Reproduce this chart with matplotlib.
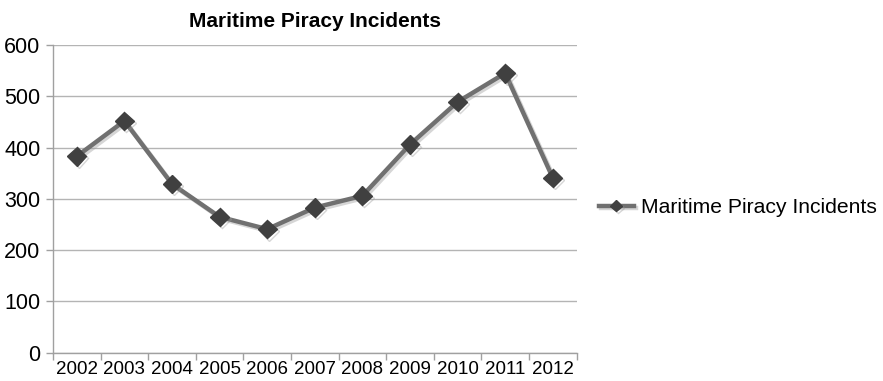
import matplotlib
matplotlib.use("Agg")
import matplotlib.pyplot as plt
import matplotlib.patheffects as pe
import numpy as np

plt.rcParams['font.family'] = ['Liberation Sans', 'DejaVu Sans']

years = ["2002", "2003", "2004", "2005", "2006", "2007", "2008", "2009", "2010", "2011", "2012"]
incidents = [383, 452, 329, 265, 241, 283, 306, 406, 489, 545, 341]
yticks = [0, 100, 200, 300, 400, 500, 600]
series_name = "Maritime Piracy Incidents"

fig = plt.figure(figsize=(8.83, 3.81), dpi=100)
ax = fig.add_axes([0.060, 0.074, 0.593, 0.808])

x = np.arange(len(years))
shadow = [pe.SimpleLineShadow(offset=(1.5, -1.5), shadow_color='#999999', alpha=0.4), pe.Normal()]
line, = ax.plot(x, incidents, color='#707070', lw=3.2, marker='D', markersize=9.5,
                markerfacecolor='#404040', markeredgecolor='#404040', label=series_name,
                path_effects=shadow, zorder=3)

ax.set_xlim(-0.5, len(years) - 0.5)
ax.set_ylim(0, 600)
ax.set_yticks(yticks)
ax.set_yticklabels([str(v) for v in yticks], fontsize=15.5)
ax.set_xticks(x)
ax.set_xticklabels(years, fontsize=13.5)
ax.set_xticks(np.arange(-0.5, len(years), 1.0), minor=True)
ax.tick_params(axis='x', which='major', length=0, pad=6)
ax.tick_params(axis='x', which='minor', length=5, color='#a0a0a0', width=1)
ax.tick_params(axis='y', length=5, color='#a0a0a0', width=1, pad=4)

ax.grid(axis='y', color='#b4b4b4', lw=1)
ax.set_axisbelow(True)
for s in ['top', 'right']:
    ax.spines[s].set_visible(False)
for s in ['left', 'bottom']:
    ax.spines[s].set_color('#a0a0a0')
    ax.spines[s].set_linewidth(1)

ax.set_title("Maritime Piracy Incidents", fontsize=15, fontweight='bold', pad=13)

leg = fig.legend(handles=[line], labels=[series_name], loc='center left',
                 bbox_to_anchor=(0.678, 0.455), frameon=False, fontsize=15.2,
                 borderpad=0, borderaxespad=0,
                 handlelength=1.65, handletextpad=0.35, markerscale=0.6)

fig.savefig("out.png", dpi=100, facecolor='white')
